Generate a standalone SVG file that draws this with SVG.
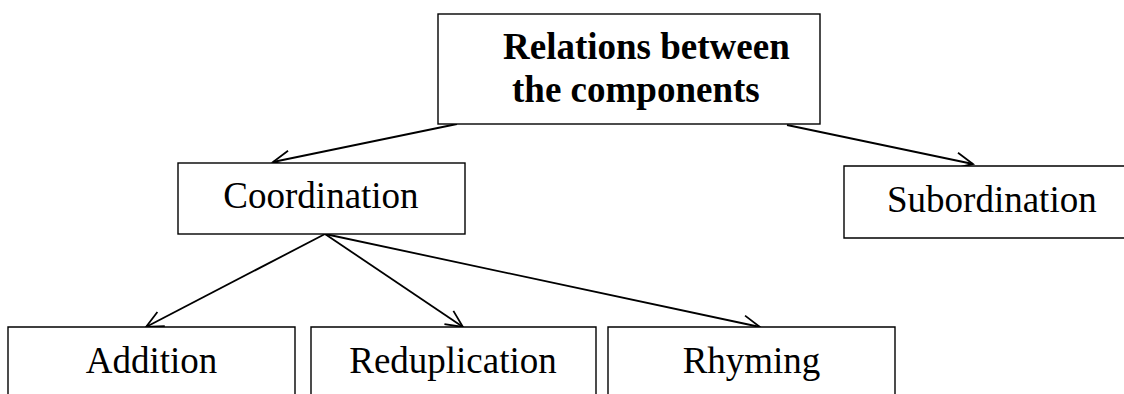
<svg xmlns="http://www.w3.org/2000/svg" width="1124" height="394" viewBox="0 0 1124 394">
<style>
.box{fill:#fff;stroke:#000;stroke-width:1.4}
.t{font-family:"Liberation Serif","Times New Roman",serif;font-size:37px;fill:#000}
.b{font-weight:bold}
.c{fill:none;stroke:#000;stroke-width:1.8}
</style>
<defs>
<marker id="arr" markerUnits="userSpaceOnUse" markerWidth="24" markerHeight="24" viewBox="-20 -12 24 24" refX="0" refY="0" orient="auto">
<path d="M-17,-8 L0,0 L-17,8" fill="none" stroke="#000" stroke-width="1.8"/>
</marker>
</defs>
<rect width="1124" height="394" fill="#fff"/>
<g id="connectors">
<line class="c" x1="457" y1="124" x2="273" y2="162" marker-end="url(#arr)"/>
<line class="c" x1="787" y1="125" x2="973" y2="164" marker-end="url(#arr)"/>
<line class="c" x1="325" y1="234" x2="146" y2="327" marker-end="url(#arr)"/>
<line class="c" x1="325" y1="234" x2="463" y2="327" marker-end="url(#arr)"/>
<line class="c" x1="325" y1="234" x2="760" y2="327" marker-end="url(#arr)"/>
</g>
<g id="relations">
<rect class="box" x="438" y="14" width="382" height="110"/>
<text class="t b" x="503" y="59">Relations between</text>
<text class="t b" x="512" y="102">the components</text>
</g>
<g id="coordination">
<rect class="box" x="178" y="163" width="287" height="71"/>
<text class="t" x="321" y="208" text-anchor="middle">Coordination</text>
</g>
<g id="subordination">
<path class="box" d="M1130,166 H844 V238 H1130"/>
<text class="t" x="887" y="212">Subordination</text>
</g>
<g id="addition">
<path class="box" d="M8,400 V327 H295 V400"/>
<text class="t" x="151.5" y="373" text-anchor="middle">Addition</text>
</g>
<g id="reduplication">
<path class="box" d="M311,400 V327 H596 V400"/>
<text class="t" x="453" y="373" text-anchor="middle">Reduplication</text>
</g>
<g id="rhyming">
<path class="box" d="M608,400 V327 H895 V400"/>
<text class="t" x="751.5" y="373" text-anchor="middle">Rhyming</text>
</g>
</svg>
